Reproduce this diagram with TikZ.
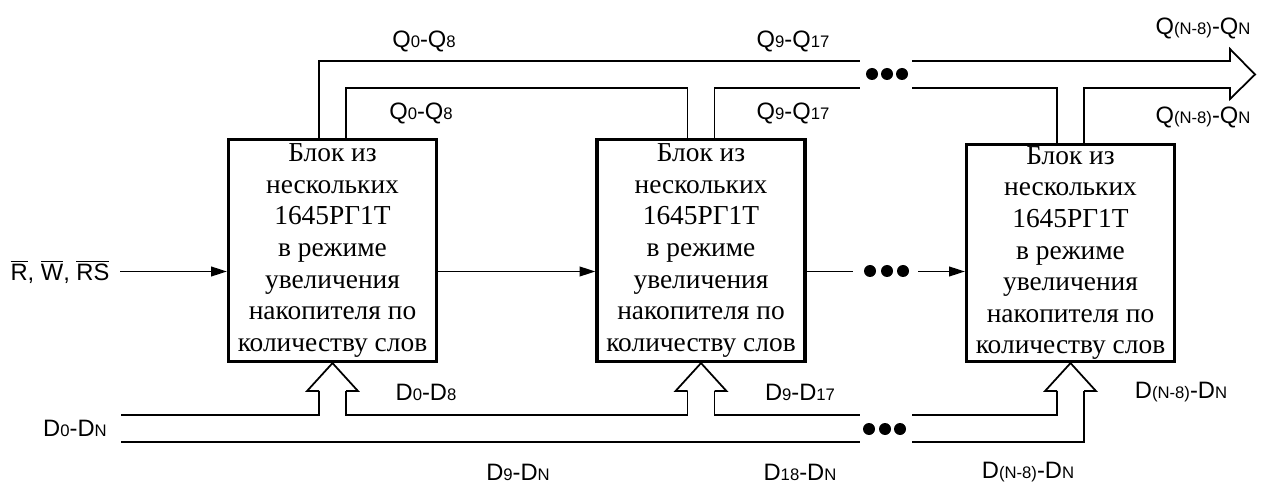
\documentclass[tikz,border=0pt]{standalone}
\usepackage{fontspec}
\setmainfont{Liberation Serif}
\setsansfont{Liberation Sans}
\usetikzlibrary{arrows.meta,calc}
\newcommand{\ix}[1]{{\fontsize{9.5}{10}\selectfont #1}}
\newcommand{\ovl}[1]{$\overline{\mbox{#1}}$}
\newcommand{\bloktext}{Блок из\\нескольких\\1645РГ1Т\\в режиме\\увеличения\\накопителя по\\количеству слов}
\begin{document}
\begin{tikzpicture}[
    blok/.style={draw,line width=1.8pt,minimum width=4.16cm,minimum height=4.44cm,align=center,inner sep=0pt,font=\fontsize{15.6}{18}\selectfont},
    bus/.style={line width=1pt},
    sig/.style={line width=1pt,-{Triangle[length=9pt,width=5.5pt]}},
    lbl/.style={font=\sffamily\fontsize{13.5}{14}\selectfont,inner sep=0pt}
]
    \useasboundingbox (0,0) rectangle (25.38,-9.68);
    \node[blok] (b1) at (6.65,-5.01) {\bloktext};
    \node[blok] (b2) at (14.02,-5.01) {\bloktext};
    \node[blok,minimum height=4.34cm] (b3) at (21.41,-5.06) {\bloktext};
    \foreach \b in {b1,b2,b3}{
        \coordinate (\b-dl) at ($(\b.south)+(-0.27,-0.56)$);
        \coordinate (\b-dr) at ($(\b.south)+(0.27,-0.56)$);
        \coordinate (\b-ql) at ($(\b.north)+(-0.27,0)$);
        \coordinate (\b-qr) at ($(\b.north)+(0.27,0)$);
        \draw[bus] (\b-dl) -- ++(-0.24,0) -- (\b.south) -- ($(\b.south)+(0.51,-0.56)$) -- (\b-dr);
    }
    \coordinate (gapL) at (17.2,0);
    \coordinate (gapR) at (18.24,0);
    \coordinate (q0) at (0,-1.22);
    \coordinate (q1) at (0,-1.76);
    \coordinate (d0) at (2.42,-8.30);
    \coordinate (d1) at (2.42,-8.84);
    \coordinate (c0) at (2.4,-5.43);
    \coordinate (qa) at (24.6,-1.22);
    \coordinate (qb) at (24.6,-1.76);
    \coordinate (qtip) at (25.1,-1.49);

    \draw[bus] (b1-ql) |- (gapL |- q0);
    \draw[bus] (b1-qr) |- (b2-ql |- q1) -- (b2-ql);
    \draw[bus] (b2-qr) |- (gapL |- q1);
    \draw[bus] (gapR |- q1) -| (b3-ql);
    \draw[bus] (gapR |- q0) -- (qa) -- ++(0,0.24) -- (qtip) -- ($(qb)+(0,-0.22)$) -- (qb) -| (b3-qr);

    \draw[bus] (d0) -| (b1-dl);
    \draw[bus] (b1-dr) |- (b2-dl |- d0) -- (b2-dl);
    \draw[bus] (b2-dr) |- (gapL |- d0);
    \draw[bus] (gapR |- d0) -| (b3-dl);
    \draw[bus] (d1) -- (gapL |- d1);
    \draw[bus] (gapR |- d1) -| (b3-dr);

    \draw[sig] (c0) -- (c0 -| b1.west);
    \draw[sig] (b1.east |- c0) -- (b2.west |- c0);
    \draw[bus] (b2.east |- c0) -- (17.06,-5.43);
    \draw[sig] (18.36,-5.43) -- (b3.west |- c0);

    \foreach \x in {17.44,17.74,18.04} \fill (\x,-1.48) circle (0.12);
    \foreach \x in {17.40,17.74,18.06} \fill (\x,-5.42) circle (0.12);
    \foreach \x in {17.38,17.70,18.00} \fill (\x,-8.58) circle (0.12);

    \node[lbl] (ctl) at (1.2,-5.44) {\ovl{R}, \ovl{W}, \ovl{RS}};
    \node[lbl] (q08a) at (8.48,-0.82) {Q\ix{0}-Q\ix{8}};
    \node[lbl] (q08b) at (8.42,-2.26) {Q\ix{0}-Q\ix{8}};
    \node[lbl] (q917a) at (15.86,-0.82) {Q\ix{9}-Q\ix{17}};
    \node[lbl] (q917b) at (15.86,-2.26) {Q\ix{9}-Q\ix{17}};
    \node[lbl] (qna) at (24.06,-0.56) {Q\ix{(N-8)}-Q\ix{N}};
    \node[lbl] (qnb) at (24.06,-2.34) {Q\ix{(N-8)}-Q\ix{N}};
    \node[lbl] (d0n) at (1.5,-8.56) {D\ix{0}-D\ix{N}};
    \node[lbl] (d08) at (8.52,-7.84) {D\ix{0}-D\ix{8}};
    \node[lbl] (d917) at (16.0,-7.84) {D\ix{9}-D\ix{17}};
    \node[lbl] (dna) at (23.62,-7.84) {D\ix{(N-8)}-D\ix{N}};
    \node[lbl] (d9n) at (10.36,-9.44) {D\ix{9}-D\ix{N}};
    \node[lbl] (d18n) at (16.0,-9.44) {D\ix{18}-D\ix{N}};
    \node[lbl] (dnb) at (20.56,-9.44) {D\ix{(N-8)}-D\ix{N}};
\end{tikzpicture}
\end{document}
